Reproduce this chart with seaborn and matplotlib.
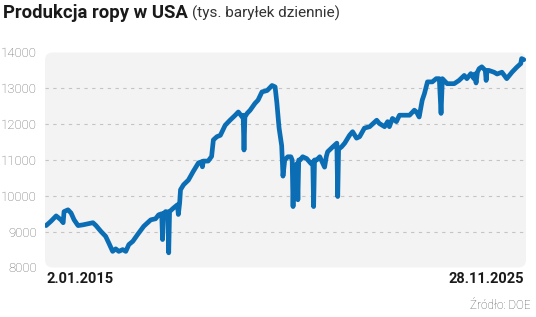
import matplotlib
matplotlib.use("Agg")
import matplotlib.pyplot as plt
import pandas as pd
import seaborn as sns
from matplotlib.patches import FancyBboxPatch

# Weekly US crude oil production (thousand barrels per day)
years = [
    2015.00, 2015.11, 2015.23, 2015.34, 2015.39, 2015.41, 2015.50, 2015.57, 2015.64, 2015.73,
    2015.84, 2015.95, 2016.07, 2016.14, 2016.25, 2016.36, 2016.43, 2016.52, 2016.59, 2016.66,
    2016.75, 2016.82, 2016.89, 2016.98, 2017.09, 2017.23, 2017.39, 2017.50, 2017.57, 2017.64,
    2017.66, 2017.68, 2017.73, 2017.78, 2017.80, 2017.82, 2017.91, 2018.00, 2018.02, 2018.05,
    2018.07, 2018.14, 2018.25, 2018.36, 2018.48, 2018.55, 2018.57, 2018.59, 2018.70, 2018.78,
    2018.82, 2018.90, 2018.98, 2019.09, 2019.20, 2019.32, 2019.39, 2019.48, 2019.50, 2019.52,
    2019.54, 2019.59, 2019.66, 2019.77, 2019.84, 2019.93, 2020.05, 2020.16, 2020.23, 2020.27,
    2020.32, 2020.38, 2020.41, 2020.45, 2020.52, 2020.59, 2020.62, 2020.64, 2020.66, 2020.68,
    2020.73, 2020.75, 2020.77, 2020.80, 2020.86, 2020.95, 2021.05, 2021.09, 2021.11, 2021.13,
    2021.18, 2021.25, 2021.36, 2021.40, 2021.43, 2021.55, 2021.64, 2021.66, 2021.68, 2021.75,
    2021.82, 2021.93, 2022.00, 2022.09, 2022.16, 2022.27, 2022.39, 2022.55, 2022.61, 2022.73,
    2022.80, 2022.84, 2022.91, 2023.00, 2023.07, 2023.30, 2023.41, 2023.46, 2023.52, 2023.59,
    2023.64, 2023.71, 2023.82, 2023.91, 2023.98, 2024.02, 2024.05, 2024.16, 2024.32, 2024.43,
    2024.55, 2024.61, 2024.70, 2024.77, 2024.79, 2024.82, 2024.85, 2024.89, 2024.95, 2025.03,
    2025.05, 2025.07, 2025.11, 2025.23, 2025.30, 2025.41, 2025.52, 2025.64, 2025.75, 2025.84,
    2025.86, 2025.91,
]
production = [
    9170, 9290, 9440, 9330, 9250, 9560, 9610, 9520, 9330, 9170,
    9190, 9220, 9250, 9170, 9010, 8870, 8690, 8450, 8520, 8450,
    8500, 8450, 8640, 8730, 8920, 9150, 9330, 9360, 9470, 9500,
    8780, 9500, 9560, 9550, 8410, 9560, 9660, 9750, 9480, 9800,
    10170, 10310, 10440, 10680, 10920, 10950, 10810, 10970, 10970, 11100,
    11560, 11650, 11690, 11970, 12110, 12250, 12340, 12200, 12250, 11280,
    12200, 12300, 12390, 12580, 12670, 12900, 12940, 13080, 13040, 12600,
    11900, 11400, 10550, 11000, 11090, 11090, 11000, 9700, 10800, 10810,
    10900, 9890, 11000, 11000, 11090, 11040, 10900, 10950, 9700, 11000,
    11000, 11090, 10800, 11100, 11230, 11370, 11470, 9980, 11300, 11370,
    11470, 11690, 11790, 11610, 11650, 11890, 11930, 12110, 12020, 11930,
    12070, 11930, 12160, 12070, 12250, 12250, 12390, 12340, 12200, 12670,
    12850, 13180, 13180, 13270, 13270, 12300, 13270, 13130, 13130, 13220,
    13360, 13270, 13410, 13270, 13400, 13150, 13450, 13550, 13600, 13500,
    13220, 13500, 13500, 13450, 13400, 13450, 13270, 13450, 13590, 13690,
    13830, 13800,
]
y_ticks = [8000, 9000, 10000, 11000, 12000, 13000, 14000]
x_tick_pos = [2015.0, 2025.91]
x_tick_labels = ["2.01.2015", "28.11.2025"]

sns.set_theme(style="white")
plt.rcParams["font.family"] = ["Roboto", "DejaVu Sans"]

df = pd.DataFrame({"rok": years, "produkcja": production})

W, H = 536, 317
fig = plt.figure(figsize=(W / 100, H / 100), dpi=100)
fig.patch.set_facecolor("white")
ax_l, ax_r, ax_t, ax_b = 45, 526, 52.5, 267.5
ax = fig.add_axes([ax_l / W, 1 - ax_b / H, (ax_r - ax_l) / W, (ax_b - ax_t) / H])
ax.patch.set_visible(False)

bg = FancyBboxPatch((0, 0), 1, 1, boxstyle="round,pad=0,rounding_size=0.016",
                    mutation_aspect=(ax_r - ax_l) / (ax_b - ax_t),
                    transform=ax.transAxes, facecolor="#f3f3f3", edgecolor="none",
                    zorder=0, clip_on=False)
ax.add_patch(bg)

for v in y_ticks[1:-1]:
    ax.axhline(v, color="#c4c4c4", lw=0.8, ls=(0, (3, 4)), zorder=1)

sns.lineplot(data=df, x="rok", y="produkcja", ax=ax, color="#0b6eb5",
             linewidth=3.4, zorder=3, solid_joinstyle="round", solid_capstyle="round")

ax.set_xlim(2014.975, 2025.96)
ax.set_ylim(8000, 14000)
for s in ax.spines.values():
    s.set_visible(False)
ax.set_xlabel("")
ax.set_ylabel("")

ax.set_yticks(y_ticks)
ax.set_yticklabels([str(v) for v in y_ticks])
ax.tick_params(axis="y", length=0, pad=6, labelsize=9.5, labelcolor="#666666")
for t in ax.get_yticklabels():
    t.set_fontweight("light")

ax.set_xticks(x_tick_pos)
ax.set_xticklabels(x_tick_labels)
ax.tick_params(axis="x", length=0, pad=3, labelsize=10.5, labelcolor="#1a1a1a")
xl = ax.get_xticklabels()
for t in xl:
    t.set_fontweight("bold")
xl[0].set_ha("left")
xl[1].set_ha("right")

t1 = fig.text(3 / W, 1 - 18 / H, "Produkcja ropy w USA", fontsize=13.3,
              fontweight="bold", color="#1a1a1a", va="baseline", ha="left")
fig.canvas.draw()
bb = t1.get_window_extent(renderer=fig.canvas.get_renderer())
fig.text((bb.x1 + 4) / W, 1 - 18 / H, "(tys. baryłek dziennie)", fontsize=11,
         fontweight="normal", color="#333333", va="baseline", ha="left")

fig.text(531 / W, 1 - 309 / H, "Źródło: DOE", fontsize=8.5, fontweight="light",
         color="#555555", va="baseline", ha="right")

fig.savefig("out.png", dpi=100)
